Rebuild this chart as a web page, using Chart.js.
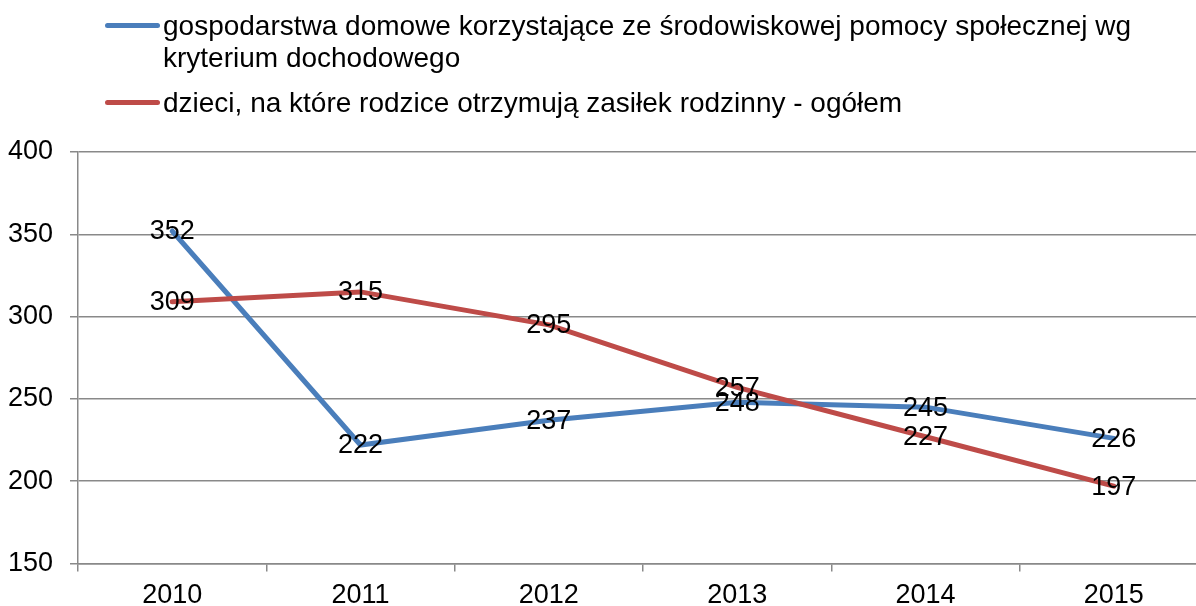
<!DOCTYPE html>
<html>
<head>
<meta charset="utf-8">
<script src="https://cdn.jsdelivr.net/npm/chart.js@4.4.0/dist/chart.umd.min.js"></script>
<style>
  html, body { margin: 0; padding: 0; background: #fff; overflow: hidden; }
  #wrap { position: relative; width: 1210px; height: 606px; }
  #legend { position: absolute; left: 105px; top: 0; font-family: 'Liberation Sans', Arial, sans-serif; font-size: 28px; line-height: 32px; color: #000; }
  .item { display: flex; align-items: flex-start; }
  .swatch { width: 55px; height: 5px; border-radius: 3px; margin-top: 13px; flex: none; }
  .txt { width: 1000px; margin-left: 3px; }
</style>
</head>
<body>
<div id="wrap">
  <canvas id="c"></canvas>
  <div id="legend"></div>
</div>
<script>
const categories = ['2010', '2011', '2012', '2013', '2014', '2015'];
const seriesNames = [
  'gospodarstwa domowe korzystające ze środowiskowej pomocy społecznej wg kryterium dochodowego',
  'dzieci, na które rodzice otrzymują zasiłek rodzinny - ogółem'
];
const householdsValues = [352, 222, 237, 248, 245, 226];
const childrenValues = [309, 315, 295, 257, 227, 197];
const yTicks = [150, 200, 250, 300, 350, 400];

const colors = ['#4a7ebb', '#be4b48'];
const FONT = "'Liberation Sans', Arial, sans-serif";

const dataLabels = {
  id: 'dataLabels',
  afterDatasetsDraw(chart) {
    const ctx = chart.ctx;
    ctx.save();
    ctx.font = '27px ' + FONT;
    ctx.fillStyle = '#000';
    ctx.textAlign = 'center';
    ctx.textBaseline = 'middle';
    chart.data.datasets.forEach((ds, i) => {
      const meta = chart.getDatasetMeta(i);
      meta.data.forEach((pt, j) => {
        ctx.fillText(String(ds.data[j]), pt.x, pt.y + 1);
      });
    });
    ctx.restore();
  }
};

const chart = new Chart(document.getElementById('c'), {
  type: 'line',
  data: {
    labels: categories,
    datasets: [
      { label: seriesNames[0], data: householdsValues, borderColor: colors[0], backgroundColor: colors[0], borderWidth: 5, pointRadius: 0, tension: 0, order: 1, borderCapStyle: 'round' },
      { label: seriesNames[1], data: childrenValues, borderColor: colors[1], backgroundColor: colors[1], borderWidth: 5, pointRadius: 0, tension: 0, order: 0, borderCapStyle: 'round' }
    ]
  },
  options: {
    responsive: true,
    maintainAspectRatio: false,
    animation: false,
    layout: { padding: { top: 152, right: 2, left: 0, bottom: 0 } },
    plugins: { legend: { display: false }, tooltip: { enabled: false } },
    scales: {
      x: {
        type: 'category',
        offset: true,
        grid: { offset: true, drawOnChartArea: false, drawTicks: true, tickLength: 8, color: '#898989', lineWidth: 1.5 },
        border: { color: '#898989', width: 1.5 },
        ticks: { color: '#000', font: { family: FONT, size: 27 }, padding: 8, maxRotation: 0 },
        afterFit(scale) { scale.height = 42.5; }
      },
      y: {
        min: yTicks[0],
        max: yTicks[yTicks.length - 1],
        afterBuildTicks(scale) { scale.ticks = yTicks.map(v => ({ value: v })); },
        grid: { color: '#898989', lineWidth: 1.5, tickLength: 8 },
        border: { color: '#898989', width: 1.5 },
        ticks: { color: '#000', font: { family: FONT, size: 27 }, padding: 17 },
        afterFit(scale) { scale.width = 78; }
      }
    }
  },
  plugins: [dataLabels]
});

const legend = document.getElementById('legend');
chart.data.datasets.forEach((ds, i) => {
  const item = document.createElement('div');
  item.className = 'item';
  item.style.marginTop = i === 0 ? '10px' : '13px';
  const sw = document.createElement('span');
  sw.className = 'swatch';
  sw.style.background = ds.borderColor;
  const t = document.createElement('span');
  t.className = 'txt';
  t.textContent = ds.label;
  item.appendChild(sw);
  item.appendChild(t);
  legend.appendChild(item);
});
</script>
</body>
</html>
